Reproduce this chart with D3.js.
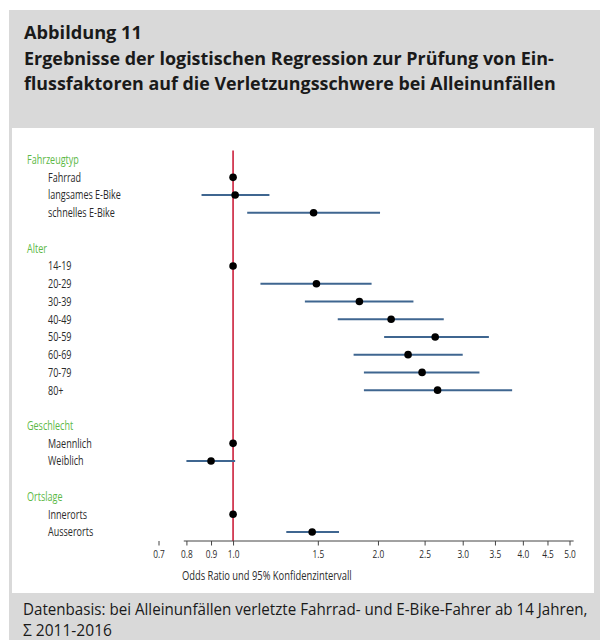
<!DOCTYPE html>
<html><head><meta charset="utf-8">
<script src="https://cdn.jsdelivr.net/npm/d3@7"></script>
<style>body{margin:0;background:#fff}svg{display:block}text{font-family:"Open Sans",sans-serif}</style>
</head><body>
<svg id="c" width="600" height="640"></svg>
<script>
// ---- data ----
const groups = ["Fahrzeugtyp", "Alter", "Geschlecht", "Ortslage"];
const labels = ["Fahrrad", "langsames E-Bike", "schnelles E-Bike",
  "14-19", "20-29", "30-39", "40-49", "50-59", "60-69", "70-79", "80+",
  "Maennlich", "Weiblich", "Innerorts", "Ausserorts"];
const groupOf = [0, 0, 0, 1, 1, 1, 1, 1, 1, 1, 1, 2, 2, 3, 3];
const oddsRatio = [1.00, 1.01, 1.47, 1.00, 1.49, 1.83, 2.13, 2.63, 2.31, 2.47, 2.66, 1.00, 0.90, 1.00, 1.46];
const ciLow  = [null, 0.86, 1.07, null, 1.14, 1.41, 1.65, 2.06, 1.78, 1.87, 1.87, null, 0.80, null, 1.29];
const ciHigh = [null, 1.19, 2.02, null, 1.94, 2.37, 2.74, 3.40, 3.00, 3.25, 3.80, null, 1.01, null, 1.66];
const tickValues = [0.7, 0.8, 0.9, 1.0, 1.5, 2.0, 2.5, 3.0, 3.5, 4.0, 4.5, 5.0];
const titleLines = ["Abbildung 11",
  "Ergebnisse der logistischen Regression zur Prüfung von Ein-",
  "flussfaktoren auf die Verletzungsschwere bei Alleinunfällen"];
const axisTitle = "Odds Ratio und 95% Konfidenzintervall";
const footerLines = ["Datenbasis: bei Alleinunfällen verletzte Fahrrad- und E-Bike-Fahrer ab 14 Jahren,",
  "\u03A3 2011-2016"];

// ---- layout ----
const svg = d3.select("#c");
svg.append("rect").attr("x", 9).attr("y", 10).attr("width", 591).attr("height", 630).attr("fill", "#d9d9d9");
svg.append("rect").attr("x", 12).attr("y", 128).attr("width", 582).attr("height", 465).attr("fill", "#fff");

// place a text at (px,py) horizontally scaled to width w (or by factor k)
function placeText(parent, str, px, py, opts) {
  const g = parent.append("g");
  const t = g.append("text").attr("x", 0).attr("y", 0).text(str)
    .attr("font-size", opts.size).attr("fill", opts.fill || "#1a1a1a");
  if (opts.weight) t.attr("font-weight", opts.weight);
  if (opts.dy) t.attr("dy", opts.dy);
  if (opts.anchor) t.attr("text-anchor", opts.anchor);
  const nat = t.node().getComputedTextLength();
  const sx = opts.width ? opts.width / nat : (opts.k || 1);
  g.attr("transform", `translate(${px},${py}) scale(${sx},1)`);
  return { g, t, nat };
}

// title
const titleWidths = [118, 530, 532];
const titleY = [39, 64.5, 90];
titleLines.forEach((t, i) => placeText(svg, t, 24, titleY[i], { size: 18.5, weight: 700, width: titleWidths[i] }));

// footer
const footerWidths = [565, 89];
const footerY = [614.5, 636];
footerLines.forEach((t, i) => placeText(svg, t, 23, footerY[i], { size: 16.5, width: footerWidths[i] }));

// rows
const rows = [];
groups.forEach((g, gi) => {
  rows.push({ key: "h" + gi, type: "header", text: g });
  labels.forEach((l, i) => {
    if (groupOf[i] === gi) rows.push({ key: "r" + i, type: "item", idx: i, text: l });
  });
  if (gi < groups.length - 1) rows.push({ key: "b" + gi, type: "blank" });
});

const y = d3.scalePoint().domain(rows.map(r => r.key)).range([159.6, 532]);
const x = d3.scaleLog().domain([0.7, 5]).range([158.5, 569.5]);

// condense factor derived from one label's measured width
const probe = svg.append("text").attr("font-size", 12.5).text(labels[1]);
const k = 73 / probe.node().getComputedTextLength();
probe.remove();

const lab = svg.append("g");
rows.filter(r => r.type !== "blank").forEach(r => {
  if (r.type === "header") placeText(lab, r.text, 27, y(r.key), { size: 12.5, fill: "#5cb946", dy: "0.35em", k });
  else placeText(lab, r.text, 48, y(r.key), { size: 12.5, fill: "#2b2b2b", dy: "0.35em", k });
});

// reference line
svg.append("line").attr("x1", x(1)).attr("x2", x(1)).attr("y1", 150.5).attr("y2", 541)
  .attr("stroke", "#c8102e").attr("stroke-width", 1.5);

// CIs and points
const items = rows.filter(r => r.type === "item");
svg.append("g").selectAll("line").data(items.filter(d => ciLow[d.idx] != null)).join("line")
  .attr("x1", d => x(ciLow[d.idx])).attr("x2", d => x(ciHigh[d.idx]))
  .attr("y1", d => y(d.key)).attr("y2", d => y(d.key))
  .attr("stroke", "#3f6690").attr("stroke-width", 2);
svg.append("g").selectAll("circle").data(items).join("circle")
  .attr("cx", d => x(oddsRatio[d.idx])).attr("cy", d => y(d.key)).attr("r", 3.8).attr("fill", "#000");

// axis
const ax = svg.append("g").attr("transform", "translate(0,541)")
  .call(d3.axisBottom(x).tickValues(tickValues).tickFormat(d3.format(".1f")).tickSize(4.5).tickSizeOuter(0));
ax.select(".domain").remove();
ax.append("line").attr("x1", x(0.79)).attr("x2", x(5.1)).attr("stroke", "#444").attr("stroke-width", 1);
ax.selectAll(".tick line").attr("stroke", "#444");
ax.selectAll(".tick text").each(function () {
  const tick = d3.select(this.parentNode);
  const str = d3.select(this).text();
  d3.select(this).remove();
  placeText(tick, str, 0, 9, { size: 11.5, fill: "#2b2b2b", dy: "0.71em", anchor: "middle", k });
});
ax.selectAll("text").attr("font-family", "'Open Sans',sans-serif");

placeText(svg, axisTitle, 182, 579.5, { size: 12, fill: "#2b2b2b", width: 170 });
</script>
</body></html>
